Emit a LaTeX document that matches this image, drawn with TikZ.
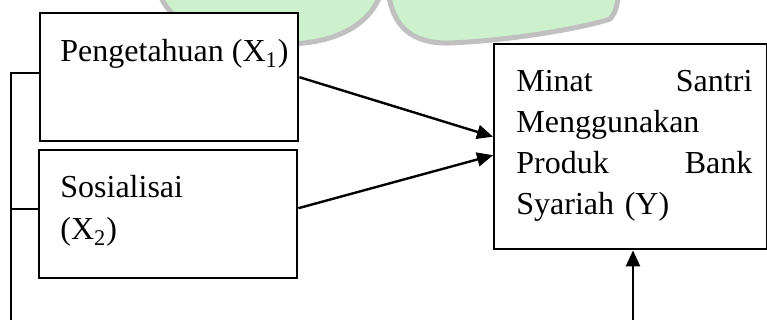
\documentclass[tikz,border=0pt]{standalone}
\usepackage{fontspec}
\setmainfont{Liberation Serif}
\usepackage{tikz}
\usetikzlibrary{positioning}
\usetikzlibrary{arrows.meta}
\usetikzlibrary{calc}

\definecolor{logogreen}{RGB}{205,241,205}
\definecolor{logogrey}{RGB}{192,192,192}

\begin{document}
\begin{tikzpicture}[x=0.5pt,y=-0.5pt,
    kotak/.style={draw, line width=1.2pt, fill=white, anchor=north west, inner sep=0pt},
    teks/.style={anchor=base west, inner sep=0pt, font=\fontsize{16}{20.5}\selectfont},
    panah/.style={line width=1.2pt, -{Triangle[length=8pt,width=7pt]}}]
  \useasboundingbox (0,0) rectangle (767,320);
  \clip (0,0) rectangle (767,320);

  % watermark in the background
  \draw[logogrey, fill=logogreen, line width=2.5pt] (158,-10) .. controls (168,20) and (200,45) .. (285,44)
     .. controls (335,44) and (372,25) .. (382,-10) -- cycle;
  \draw[logogrey, fill=logogreen, line width=2.5pt] (388,-10) .. controls (392,25) and (410,44) .. (450,43)
     .. controls (520,40) and (590,26) .. (610,19) .. controls (616,12) and (618,5) .. (618,-10) -- cycle;

  % boxes
  \node[kotak, minimum width=129pt, minimum height=64pt] (peng) at (39,12) {};
  \node[kotak, minimum width=129pt, minimum height=64pt] (sosial) at (38,149) {};
  \node[kotak, minimum width=136.5pt, minimum height=102.5pt] (minat) at (493,43) {};

  % texts
  \node[teks] (tpeng) at (60,62) {Pengetahuan (X\textsubscript{1})};
  \node[teks, text width=110pt, align=left] (tsosial) at (60,198) {Sosialisai\\[0.5pt](X\textsubscript{2})};
  \node[teks, text width=118pt, align=left] (tminat) at (516,92)
     {Minat \hfill Santri\\Menggunakan\\Produk \hfill Bank\\Syariah (Y)};

  % free ends at the bottom
  \coordinate (kiri) at (11,325);
  \coordinate (bawah) at (633,325);

  % connectors
  \draw[panah] (peng.east) -- ([yshift=5pt]minat.west);
  \draw[panah] ([yshift=3pt]sosial.east) -- ([yshift=-4.25pt]minat.west);
  \draw[line width=1.2pt] ([yshift=2pt]peng.west) -| (kiri);
  \draw[line width=1.2pt] ([yshift=2.5pt]sosial.west) -- ([yshift=2.5pt]sosial.west -| kiri);
  \draw[panah] (bawah) -- (bawah |- minat.south);
\end{tikzpicture}
\end{document}
